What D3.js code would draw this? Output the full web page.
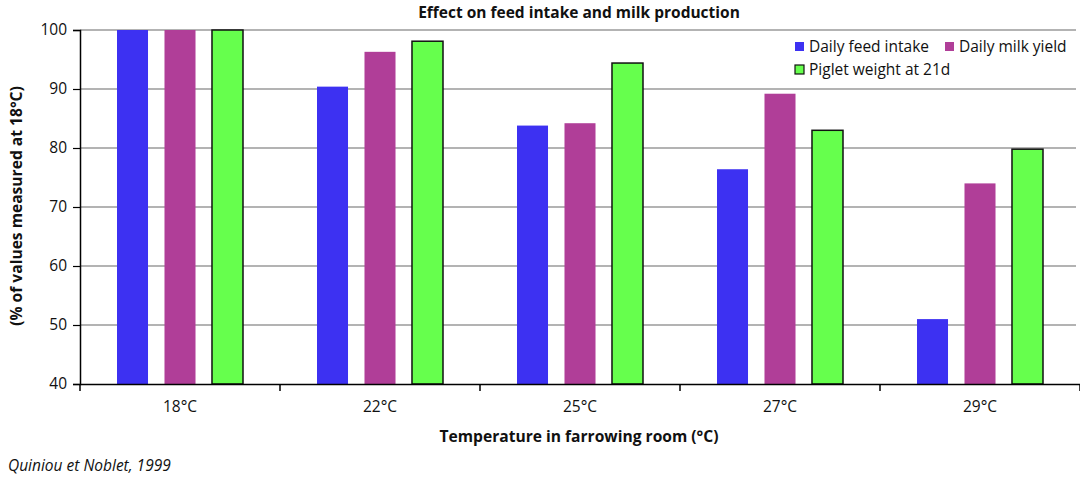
<!DOCTYPE html>
<html><head><meta charset="utf-8">
<script src="https://cdn.jsdelivr.net/npm/d3@7"></script>
<style>body{margin:0;background:#fff;} text{font-family:"Open Sans",sans-serif;}</style>
</head><body><svg id="c" width="1080" height="477"></svg>
<script>
const categories = ["18°C","22°C","25°C","27°C","29°C"];
const seriesNames = ["Daily feed intake","Daily milk yield","Piglet weight at 21d"];
const feedIntake = [100, 90.4, 83.8, 76.4, 51.0];
const milkYield  = [100, 96.3, 84.2, 89.2, 74.0];
const pigletWeight = [100, 98.1, 94.4, 83.0, 79.8];
const yTicks = [40,50,60,70,80,90,100];
const colors = ["#3d31f2","#b03e98","#66ff4d"];
const series = [feedIntake, milkYield, pigletWeight];

const svg = d3.select("#c");
const L=80, R=1080, T=30, B=384;
const FS = 15.5;
const x = d3.scaleBand().domain(categories).range([L,R]);
const x1 = d3.scaleBand().domain(seriesNames).range([0,x.bandwidth()]).paddingInner(0.347).paddingOuter(0.779);
const y = d3.scaleLinear().domain([40,100]).range([B,T]);

// grid
svg.append("g").selectAll("line").data(yTicks.filter(d=>d>40)).join("line")
  .attr("x1",L).attr("x2",R-4).attr("y1",d=>y(d)).attr("y2",d=>y(d))
  .attr("stroke","#9a9a9a").attr("stroke-width",1.3);

// bars
categories.forEach((c,i)=>{
  seriesNames.forEach((s,j)=>{
    svg.append("rect")
      .attr("x",x(c)+x1(s)).attr("width",x1.bandwidth())
      .attr("y",y(series[j][i])).attr("height",B-y(series[j][i]))
      .attr("fill",colors[j])
      .attr("stroke", j===2?"#111":"none").attr("stroke-width",1.5);
  });
});

// y axis
const ya = svg.append("g").attr("transform",`translate(${L},0)`)
  .call(d3.axisLeft(y).tickValues(yTicks).tickSize(7).tickPadding(6));
ya.select(".domain").attr("stroke","#000").attr("stroke-width",1.5);
ya.selectAll(".tick line").attr("stroke","#000").attr("stroke-width",1.2);
ya.selectAll("text").attr("font-size",FS).attr("fill","#111").style("font-family","Open Sans");

// x axis
const xa = svg.append("g").attr("transform",`translate(0,${B})`)
  .call(d3.axisBottom(x).tickSize(0).tickPadding(17));
xa.select(".domain").attr("stroke","#000").attr("stroke-width",1.5);
xa.selectAll("text").attr("font-size",FS).attr("fill","#111").style("font-family","Open Sans");
xa.selectAll(".tickmark").data(d3.range(categories.length+1)).join("line")
  .attr("x1",d=>L+d*x.step()).attr("x2",d=>L+d*x.step()).attr("y1",0).attr("y2",7)
  .attr("stroke","#000").attr("stroke-width",1.5);

// titles
svg.append("text").attr("x",579).attr("y",18).attr("text-anchor","middle")
  .attr("font-size",FS).attr("font-weight","bold").attr("fill","#111").text("Effect on feed intake and milk production");
svg.append("text").attr("x",579).attr("y",442).attr("text-anchor","middle")
  .attr("font-size",15.6).attr("font-weight","bold").attr("fill","#111").text("Temperature in farrowing room (°C)");
svg.append("text").attr("transform",`translate(22,206) rotate(-90)`).attr("text-anchor","middle")
  .attr("font-size",15.6).attr("font-weight","bold").attr("fill","#111").text("(% of values measured at 18°C)");
svg.append("text").attr("x",8).attr("y",471).attr("font-size",FS).attr("font-style","italic")
  .attr("fill","#111").text("Quiniou et Noblet, 1999");

// legend
const leg = [{i:0,x:795,y:46.5},{i:1,x:945,y:46.5},{i:2,x:795,y:69.5}];
leg.forEach(l=>{
  svg.append("rect").attr("x",l.x).attr("y",l.y-4.5).attr("width",9).attr("height",9)
    .attr("fill",colors[l.i]).attr("stroke",l.i===2?"#111":"none").attr("stroke-width",1.2);
  svg.append("text").attr("x",l.x+14).attr("y",l.y+5.5).attr("font-size",FS).attr("fill","#111")
    .text(seriesNames[l.i]);
});
</script></body></html>
